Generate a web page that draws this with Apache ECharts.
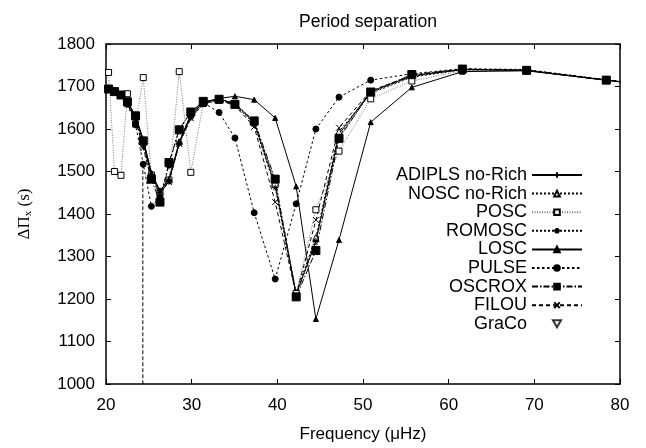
<!DOCTYPE html>
<html>
<head>
<meta charset="utf-8">
<script src="https://cdn.jsdelivr.net/npm/echarts@6/dist/echarts.min.js"></script>
<style>html,body{margin:0;padding:0;background:#fff}#c{width:646px;height:448px}</style>
</head>
<body>
<div id="c"></div>
<script>
// Frequencies (µHz) of the modes
var freq = [20.3, 21.0, 21.75, 22.5, 23.45, 24.35, 25.3, 26.3, 27.35, 28.55, 29.9, 31.35, 33.2, 35.05, 37.3, 39.75, 42.2, 44.5, 47.2, 50.9, 55.7, 61.6, 69.1, 78.4, 88];
// Period spacing values (s)
var adipls = [1695,1689,1680,1662,1628,1568,1492,1448,1477,1567,1630,1662,1670,1660,1615,1468,1212,1335,1588,1688,1725,1740,1738,1715,1692];
var nosc   = [1697,1690,1682,1664,1632,1574,1496,1452,1480,1570,1633,1664,1671,1661,1618,1474,1215,1345,1594,1684,1722,1739,1738,1715,1692];
var posc   = [1733,1500,1491,1683,1612,1721,1492,1450,1480,1735,1498,1660,1668,1659,1614,1470,1213,1410,1548,1671,1713,1737,1737,1714,1692];
var romosc = [1694,1688,1679,1660,1622,1560,1484,1455,1478,1566,1626,1658,1668,1657,1612,1462,1208,1337,1582,1686,1724,1740,1738,1715,1692];
var losc   = [1696,1690,1682,1664,1630,1575,1497,1455,1482,1570,1634,1662,1672,1677,1669,1626,1465,1153,1339,1616,1698,1735,1737,1715,1692];
var pulse  = [1694,1688,1679,1658,1610,1517,1418,1440,1515,1600,1640,1662,1639,1579,1403,1247,1424,1600,1675,1715,1730,1742,1740,1716,1692];
var oscrox = [1694,1688,1680,1664,1631,1572,1482,1428,1521,1598,1640,1665,1670,1658,1619,1482,1205,1314,1578,1687,1728,1741,1738,1715,1692];
var filou  = [1693,1687,1678,1658,1620,1555,1478,1450,1475,1565,1625,1660,1668,1655,1605,1428,1210,1386,1603,1690,1726,1741,1738,1715,1692];
var graco  = [];
// PULSE drop at the 24 µHz mode (goes far below the axis)
var pulseDropX = [24.3, 24.3];
var pulseDropY = [1517, -3000];
var names = ['ADIPLS no-Rich','NOSC no-Rich','POSC','ROMOSC','LOSC','PULSE','OSCROX','FILOU','GraCo'];
var xTicks = [20, 80, 10];
var yTicks = [1000, 1800, 100];

function pairs(xs, ys){ return ys.map(function(v,i){ return [xs[i], v]; }); }

var PLUS = 'path://M0,5L10,5M5,0L5,10';
var STAR = 'path://M0,5L10,5M5,0L5,10M1.5,1.5L8.5,8.5M8.5,1.5L1.5,8.5';
var CROSS = 'path://M0,0L10,10M10,0L0,10';
var DTRI = 'path://M0,0L10,0L5,8.66Z';

function lineSeries(name, data, sym, size, fill, dash, color, width){
  return {
    name: name, type: 'line', data: pairs(freq, data),
    symbol: sym, symbolSize: size, showSymbol: true,
    itemStyle: {color: fill, borderColor: '#000', borderWidth: 1},
    lineStyle: {color: color || '#000', width: width || 1, type: dash},
    emphasis: {disabled: true}, animation: false, z: 2
  };
}

var chart = echarts.init(document.getElementById('c'), null, {renderer: 'canvas'});
var font = 'Liberation Sans, Arial, Helvetica, sans-serif';
var axisCommon = {
  type: 'value', splitLine: {show: false},
  axisLine: {show: true, lineStyle: {color: '#000', width: 1.5}},
  axisTick: {show: true, inside: true, length: 5, lineStyle: {color: '#000', width: 1}}
};
function plain(v){ return String(v); }
chart.setOption({
  backgroundColor: '#fff',
  animation: false,
  title: {text: 'Period separation', left: 363, textAlign: 'center', top: 8,
    textStyle: {fontFamily: font, fontSize: 17.6, fontWeight: 'normal', color: '#000'}},
  grid: {left: 106, right: 26, top: 44, bottom: 58},
  legend: {
    data: names, orient: 'vertical', align: 'right', right: 58, top: 161,
    itemWidth: 50, itemHeight: 7, itemGap: 0.6,
    textStyle: {fontFamily: font, fontSize: 18, color: '#000', lineHeight: 17},
    selectedMode: false
  },
  xAxis: [
    Object.assign({}, axisCommon, {min: xTicks[0], max: xTicks[1], interval: xTicks[2], position: 'bottom',
      axisLabel: {fontFamily: font, fontSize: 17, color: '#000', margin: 13, formatter: plain},
      name: 'Frequency (\u03bcHz)', nameLocation: 'middle', nameGap: 42,
      nameTextStyle: {fontFamily: font, fontSize: 17, color: '#000'}}),
    Object.assign({}, axisCommon, {min: xTicks[0], max: xTicks[1], interval: xTicks[2], position: 'top',
      axisLabel: {show: false}})
  ],
  yAxis: [
    Object.assign({}, axisCommon, {min: yTicks[0], max: yTicks[1], interval: yTicks[2], position: 'left',
      axisLabel: {fontFamily: font, fontSize: 17, color: '#000', margin: 11, formatter: plain},
      name: '{a|\u0394\u03a0}{b|x}{a| (s)}', nameLocation: 'middle', nameGap: 72, nameRotate: 90,
      nameTextStyle: {rich: {
        a: {fontFamily: 'Liberation Serif, DejaVu Serif, serif', fontSize: 17, color: '#000'},
        b: {fontFamily: 'Liberation Serif, DejaVu Serif, serif', fontSize: 11, color: '#000', verticalAlign: 'bottom', padding: [8, 0, 0, 0]}
      }}}),
    Object.assign({}, axisCommon, {min: yTicks[0], max: yTicks[1], interval: yTicks[2], position: 'right',
      axisLabel: {show: false}})
  ],
  series: [
    lineSeries(names[0], adipls, PLUS, 7, '#000', 'solid', '#000', 1),
    lineSeries(names[1], nosc, 'triangle', 6, '#fff', [2, 2], '#000', 1),
    lineSeries(names[2], posc, 'rect', 6, '#fff', [1, 1.5], '#777', 1),
    lineSeries(names[3], romosc, STAR, 6, '#000', [2, 2], '#000', 1),
    lineSeries(names[4], losc, 'triangle', 5, '#000', 'solid', '#000', 1),
    lineSeries(names[5], pulse, 'circle', 6, '#000', [2.5, 2.5], '#000', 1),
    lineSeries(names[6], oscrox, 'rect', 8, '#000', [6, 2, 1.5, 2], '#000', 1),
    lineSeries(names[7], filou, CROSS, 6, '#000', [4, 3], '#000', 1),
    {name: names[8], type: 'scatter', data: pairs(freq, graco), symbol: DTRI, symbolSize: 6,
      itemStyle: {color: '#fff', borderColor: '#000', borderWidth: 1}},
    {name: names[5], type: 'line', data: pairs(pulseDropX, pulseDropY), symbol: 'none',
      lineStyle: {color: '#000', width: 1, type: [4, 2]}, z: 1}
  ]
});
</script>
</body>
</html>
